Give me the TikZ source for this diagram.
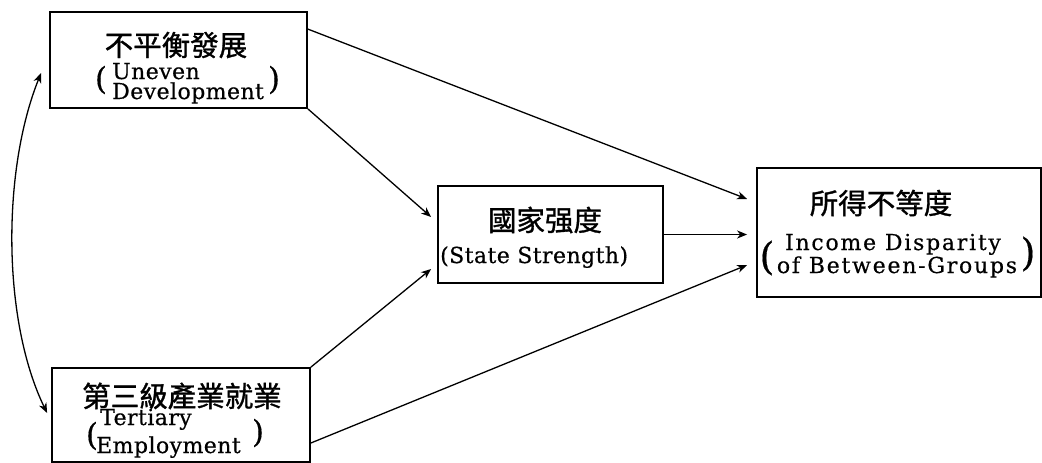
\documentclass[tikz,border=0pt]{standalone}
\usepackage{fontspec}
\setmainfont{DejaVu Serif}[LetterSpace=2,FakeBold=0.5]
\newfontfamily\wide{DejaVu Serif}[LetterSpace=8,FakeBold=0.5]
\newfontfamily\cjk{Noto Sans CJK TC}[FakeBold=1.2]
\usetikzlibrary{arrows.meta,calc}
\tikzset{
  box/.style={draw, line width=1.8pt, inner sep=0pt},
  eng/.style={inner sep=0pt, font=\fontsize{22}{22}\selectfont},
  par/.style={inner sep=0pt, font=\fontsize{#1}{#1}\selectfont},
  cjktext/.style={inner sep=0pt, font=\fontsize{28.5}{30}\selectfont\cjk},
  arr/.style={line width=1.3pt, -{Stealth[length=10pt,width=8pt,inset=3pt]}},
  biarr/.style={line width=1.3pt, {Stealth[length=10pt,width=8pt,inset=3pt]}-{Stealth[length=10pt,width=8pt,inset=3pt]}}
}
\begin{document}
\begin{tikzpicture}[x=1pt,y=-1pt]
\useasboundingbox (0,0) rectangle (1042,463);
% boxes
\node[box, minimum width=257pt, minimum height=96pt] (ud) at (178.5,60) {};
\node[box, minimum width=258pt, minimum height=94pt] (te) at (181,415) {};
\node[box, minimum width=225pt, minimum height=97pt] (st) at (550.5,234.5) {};
\node[box, minimum width=284pt, minimum height=129pt] (id) at (899,232.5) {};
% Uneven Development
\node[cjktext] (udc) at (176,45) {不平衡發展};
\node[eng, anchor=base west] (ud1) at (112,79) {Uneven};
\node[eng, anchor=base west] (ud2) at (112,99) {Development};
\node[par=31] (udl) at (101,80) {(};
\node[par=31] (udr) at (274,80) {)};
% Tertiary Employment
\node[cjktext] (tec) at (182,396) {第三級產業就業};
\node[eng, anchor=base west] (te1) at (100,425) {Tertiary};
\node[eng, anchor=base west] (te2) at (96,453) {Employment};
\node[par=31] (tel) at (92,436) {(};
\node[par=31] (ter) at (258,433) {)};
% State Strength
\node[cjktext] (stc) at (545,220) {國家强度};
\node[eng, anchor=base west] (ste) at (440,263) {(State Strength)};
% Income Disparity
\node[cjktext] (idc) at (881,203) {所得不等度};
\node[eng, anchor=base, font=\fontsize{22}{22}\selectfont\wide] (id1) at (893,250) {Income Disparity};
\node[eng, anchor=base, font=\fontsize{22}{22}\selectfont\wide] (id2) at (897,273) {of Between-Groups};
\node[par=38] (idl) at (767,258) {(};
\node[par=38] (idr) at (1028,254) {)};
% connectors
\draw[arr] ([yshift=-18pt]ud.north east) -- ([xshift=-9pt,yshift=33.5pt]id.west);
\draw[arr] (ud.south east) -- ([xshift=-6pt,yshift=17.5pt]st.west);
\draw[arr] (st.east) -- ([xshift=-9pt]st.east -| id.west);
\draw[arr] (te.north east) -- ([xshift=-6pt,yshift=-34.5pt]st.west);
\draw[arr] ([yshift=-28pt]te.east) -- ([xshift=-9pt,yshift=-32.5pt]id.west);
\coordinate (c1) at (2,170);
\coordinate (c2) at (2,320);
\draw[biarr] ([xshift=-8pt,yshift=-13pt]ud.west) .. controls (c1) and (c2) .. ([xshift=-4pt,yshift=2pt]te.west);
\end{tikzpicture}
\end{document}
